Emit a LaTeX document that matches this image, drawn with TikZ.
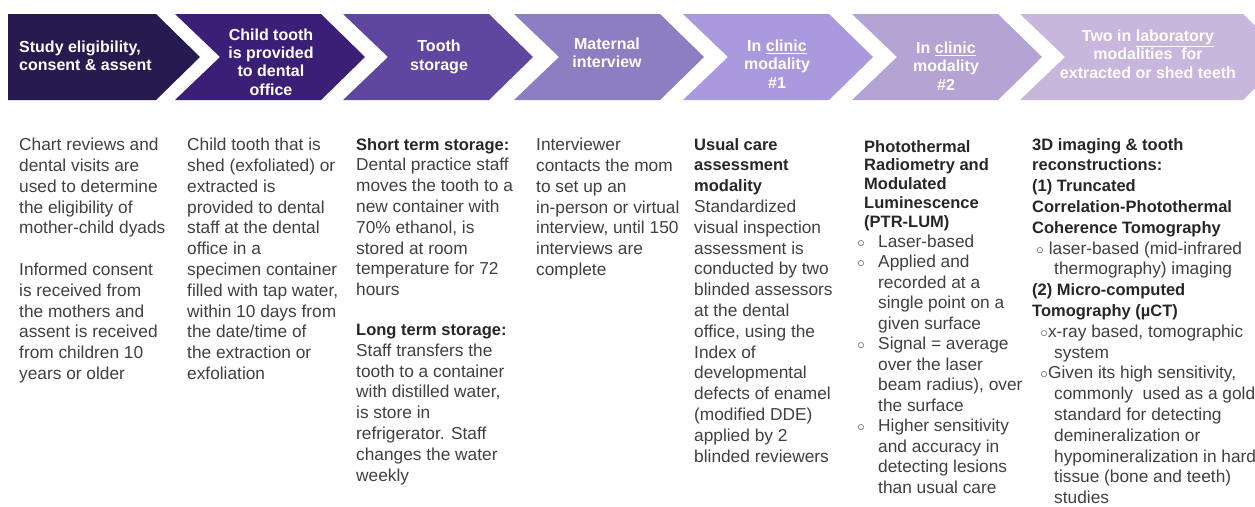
\documentclass[tikz,border=0pt]{standalone}
\usepackage{fontspec}
\setmainfont{Liberation Sans}

\definecolor{stepa}{HTML}{261A4E}
\definecolor{stepb}{HTML}{3B1F77}
\definecolor{stepc}{HTML}{5F47A0}
\definecolor{stepd}{HTML}{8C7EC1}
\definecolor{stepe}{HTML}{AB99DD}
\definecolor{stepf}{HTML}{B4A3D3}
\definecolor{stepg}{HTML}{C8B6DC}
\definecolor{bodygray}{HTML}{404040}
\definecolor{headgray}{HTML}{262626}

\tikzstyle{stage}=[text=white, font=\fontsize{16}{18.3}\selectfont\bfseries, align=center, inner sep=0pt]
\tikzstyle{notes}=[text=bodygray, font=\fontsize{17.3}{20.8}\selectfont, align=left, anchor=north west, inner sep=0pt]
\newcommand{\stage}{\node[stage]}
\newcommand{\notes}{\node[notes]}
\newcommand{\hd}[1]{{\fontsize{16.5}{20.8}\selectfont\bfseries\color{headgray}#1}}
\newcommand{\ring}{{\fontsize{13}{13}\selectfont ○}}
\newcommand{\bul}{\makebox[21pt][l]{\ring}}
% one arrow of the band: left x, length of the flat top, colour
\newcommand{\chevron}[3]{\fill[#3] (#1,14) -- ++(#2,0) -- ++(44,43) -- ++(-44,43) -- ++(-#2,0) -- ++(45,-43) -- cycle;}

\begin{document}
\begin{tikzpicture}[x=1pt, y=-1pt]
\useasboundingbox (0,0) rectangle (1255,506);
\clip (0,0) rectangle (1255,506);

% the band of steps
\fill[stepa] (8,14) -- (156,14) -- (200,57) -- (156,100) -- (8,100) -- cycle;
\chevron{175}{146}{stepb}
\chevron{343}{146}{stepc}
\chevron{514}{146}{stepd}
\chevron{683}{146}{stepe}
\chevron{852}{146}{stepf}
\chevron{1020}{223}{stepg}

\stage[align=left, anchor=west] (s1) at (19,56) {Study eligibility,\\consent \& assent};
\stage (s2) at (271,62) {Child tooth\\is provided\\to dental\\office};
\stage (s3) at (439,57) {Tooth\\storage};
\stage (s4) at (607,53) {Maternal\\interview};
\stage (s5) at (777,64) {In \underline{clinic}\\modality\\\#1};
\stage (s6) at (946,66) {In \underline{clinic}\\modality\\\#2};
\stage (s7) at (1148,54) {Two in \underline{laboratory}\\modalities\ \ for\\extracted or shed teeth};

% text under each step
\notes (c1) at (19,138) {Chart reviews and\\dental visits are\\used to determine\\the eligibility of\\mother-child dyads\\[20.8pt]Informed consent\\is received from\\the mothers and\\assent is received\\from children 10\\years or older};
\notes (c2) at (187,138) {Child tooth that is\\shed (exfoliated) or\\extracted is\\provided to dental\\staff at the dental\\office in a\\specimen container\\filled with tap water,\\within 10 days from\\the date/time of\\the extraction or\\exfoliation};
\notes (c3) at (356,138) {\hd{Short term storage:}\\Dental practice staff\\moves the tooth to a\\new container with\\70\% ethanol, is\\stored at room\\temperature for 72\\hours\\[19pt]\hd{Long term storage:}\\Staff transfers the\\tooth to a container\\with distilled water,\\is store in\\refrigerator. Staff\\changes the water\\weekly};
\notes (c4) at (536,138) {Interviewer\\contacts the mom\\to set up an\\in-person or virtual\\interview, until 150\\interviews are\\complete};
\notes (c5) at (694,138) {\hd{Usual care}\\\hd{assessment}\\\hd{modality}\\Standardized\\visual inspection\\assessment is\\conducted by two\\blinded assessors\\at the dental\\office, using the\\Index of\\developmental\\defects of enamel\\(modified DDE)\\applied by 2\\blinded reviewers};
\notes[font=\fontsize{17.3}{18.8}\selectfont] (c6) at (864,140) {\hd{Photothermal}\\\hd{Radiometry and}\\\hd{Modulated}\\\hd{Luminescence}\\\hd{(PTR-LUM)}};
\notes[font=\fontsize{17.3}{20.5}\selectfont] (c6b) at (857,234.5) {\bul Laser-based\\\bul Applied and\\\hspace*{21pt}recorded at a\\\hspace*{21pt}single point on a\\\hspace*{21pt}given surface\\\bul Signal = average\\\hspace*{21pt}over the laser\\\hspace*{21pt}beam radius), over\\\hspace*{21pt}the surface\\\bul Higher sensitivity\\\hspace*{21pt}and accuracy in\\\hspace*{21pt}detecting lesions\\\hspace*{21pt}than usual care};
\notes (c7) at (1032,138) {\hd{3D imaging \& tooth}\\\hd{reconstructions:}\\\hd{(1) Truncated}\\\hd{Correlation-Photothermal}\\\hd{Coherence Tomography}\\\hspace*{4pt}\ring\ laser-based (mid-infrared\\\hspace*{22pt}thermography) imaging\\\hd{(2) Micro-computed}\\\hd{Tomography (µCT)}\\\hspace*{8pt}\ring x-ray based, tomographic\\\hspace*{22pt}system\\\hspace*{8pt}\ring Given its high sensitivity,\\\hspace*{22pt}commonly\ \ used as a gold\\\hspace*{22pt}standard for detecting\\\hspace*{22pt}demineralization or\\\hspace*{22pt}hypomineralization in hard\\\hspace*{22pt}tissue (bone and teeth)\\\hspace*{22pt}studies};
\end{tikzpicture}
\end{document}
